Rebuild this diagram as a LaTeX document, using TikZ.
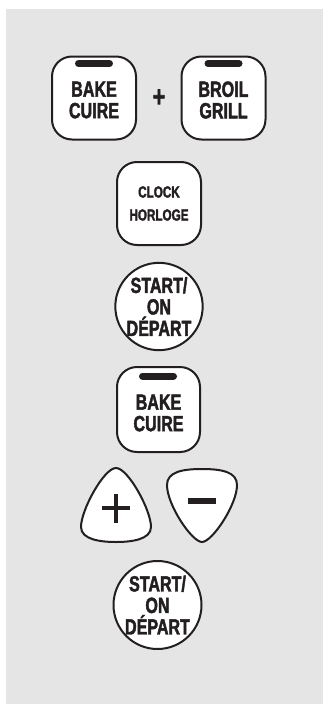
\documentclass[tikz,border=0pt]{standalone}
\usepackage{fontspec}
\newfontfamily\keyfont{Liberation Sans Bold}[FakeStretch=0.73, FakeBold=2]
\usetikzlibrary{positioning}
\definecolor{panelgray}{HTML}{E5E5E5}
\definecolor{ink}{HTML}{231F20}

\begin{document}
\begin{tikzpicture}[x=1pt, y=-1pt,
    key/.style={draw=ink, line width=2pt, fill=white, text=ink, align=center,
      font=\keyfont\fontsize{22}{21.5}\selectfont},
    squarekey/.style={key, rectangle, rounded corners=20pt,
      minimum width=84pt, minimum height=83pt, inner sep=0pt},
    roundkey/.style={key, circle, minimum size=87pt, inner sep=0pt},
    keytext/.style={text=ink, align=center, font=\keyfont\fontsize{22}{21.5}\selectfont},
    keybar/.style={ink, line width=7pt, line cap=round},
    pad/.style={draw=ink, line width=2pt, fill=white},
    padsign/.style={ink, line width=4.5pt}]
  \useasboundingbox (0,0) rectangle (323,704);
  \fill[panelgray] (6,9) rectangle (323,704);

  % bake + broil
  \node[squarekey] (bakeA) at (94,98) {};
  \node[keytext] (bakeAtxt) at (94,100) {BAKE\\CUIRE};
  \draw[keybar] (78.5,63.5) -- (109.5,63.5);
  \node[text=ink, font=\keyfont\fontsize{29}{29}\selectfont] (and) at (159,98) {+};
  \node[squarekey] (broil) at (223.5,98) {};
  \node[keytext] (broiltxt) at (223.5,100) {BROIL\\GRILL};
  \draw[keybar] (208,63.5) -- (239,63.5);

  % clock
  \node[squarekey, font=\keyfont\fontsize{16}{23}\selectfont] (clock) at (159,203.5) {CLOCK\\HORLOGE};

  % start
  \node[roundkey] (startA) at (159,306.5) {START/\\ON\\DÉPART};

  % bake again
  \node[squarekey, minimum width=83pt, minimum height=85pt] (bakeB) at (158.5,409.5) {};
  \node[keytext] (bakeBtxt) at (158.5,413) {BAKE\\CUIRE};
  \draw[keybar] (142.5,376) -- (173.5,376);

  % up and down pads
  \draw[pad] (116,468) .. controls (128,468) and (151,510) .. (151,527)
    .. controls (151,540) and (130,542) .. (116,542)
    .. controls (102,542) and (81,540) .. (81,527)
    .. controls (81,510) and (104,468) .. (116,468) -- cycle;
  \draw[padsign] (102,508) -- (130,508);
  \draw[padsign] (116,494) -- (116,523);
  \draw[pad] (202,469) .. controls (222,469) and (237,472) .. (237,485)
    .. controls (237,505) and (212,542) .. (202,542)
    .. controls (192,542) and (167,505) .. (167,485)
    .. controls (167,472) and (182,469) .. (202,469) -- cycle;
  \draw[padsign, line width=6pt] (188,501) -- (216,501);

  % start again
  \node[roundkey, minimum size=88pt] (startB) at (157.5,605) {START/\\ON\\DÉPART};
\end{tikzpicture}
\end{document}
